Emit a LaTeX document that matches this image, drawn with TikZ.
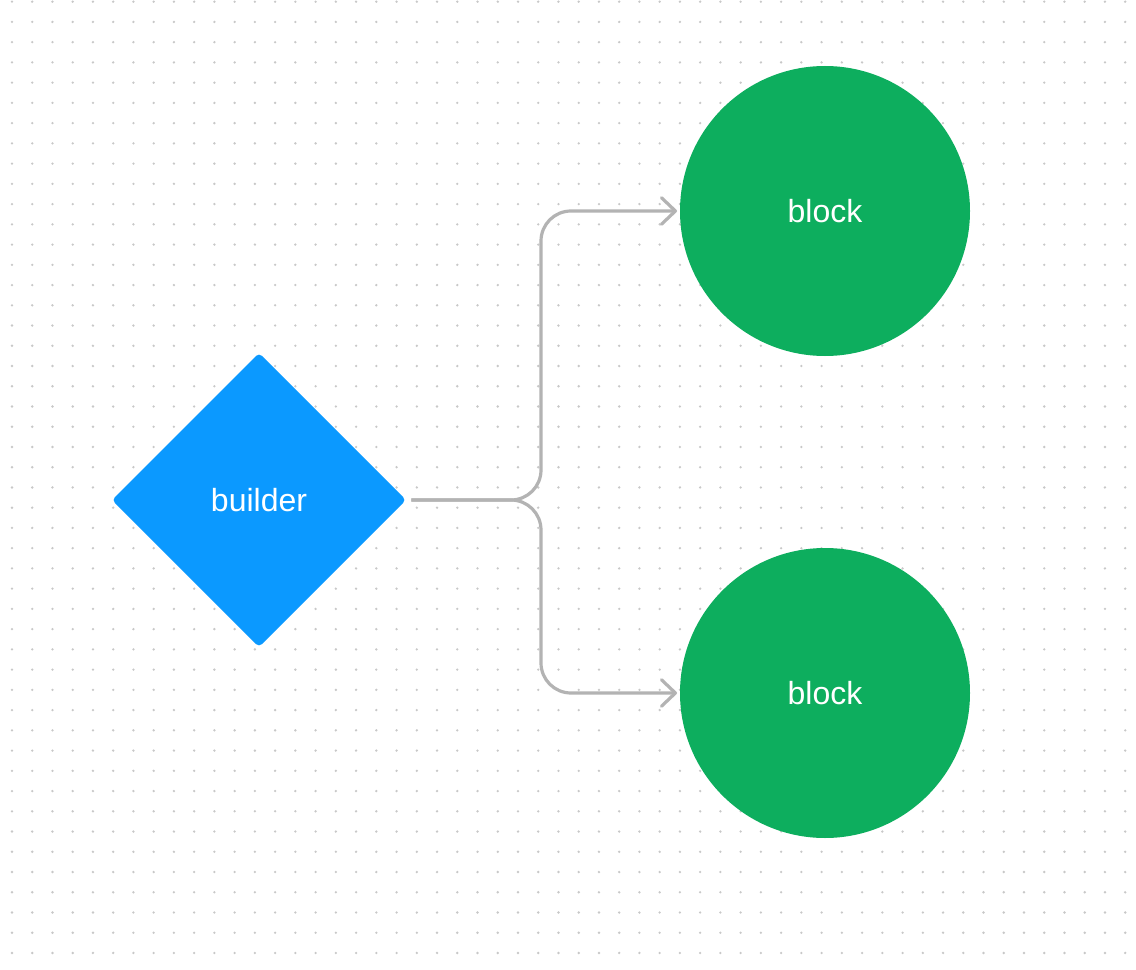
\documentclass[tikz,border=0pt]{standalone}
\usepackage{fontspec}
\setmainfont{Liberation Sans}
\usetikzlibrary{shapes.geometric,arrows.meta}

\definecolor{dotgray}{HTML}{C8C8C8}
\definecolor{linkgray}{HTML}{B3B3B3}
\definecolor{bldblue}{HTML}{0B99FF}
\definecolor{blkgreen}{HTML}{0DAE5E}

\tikzset{
  builderbox/.style={shape=diamond, aspect=1, fill=bldblue, draw=none, inner sep=0pt, outer sep=0pt,
    minimum width=220.5pt, minimum height=220.5pt, rounded corners=3pt,
    text=white, font=\fontsize{24}{28}\selectfont},
  blockbox/.style={shape=circle, fill=blkgreen, draw=none, inner sep=0pt, outer sep=0pt,
    minimum size=217.5pt, text=white, font=\fontsize{24}{28}\selectfont},
  link/.style={draw=linkgray, line width=2.4pt, rounded corners=22.5pt,
    -{Straight Barb[length=10.5pt, width=20pt, line cap=round, line join=round]},
    shorten <=4pt, shorten >=2.25pt}
}

\begin{document}
\begin{tikzpicture}[x=0.75pt,y=-0.75pt]

\useasboundingbox (0,0) rectangle (1136,970);
\fill[white] (0,0) rectangle (1136,970);
% dot grid
\foreach \i in {0,...,55}
  \foreach \j in {0,...,47}
    \fill[dotgray] (12+20.24*\i,1.7+20.24*\j) circle (1.3);

\node(bld) at (259,500) [builderbox] {builder};
\node(blk1) at (825,211) [blockbox] {block};
\node(blk2) at (825,693) [blockbox] {block};

\coordinate (split) at (541,500);
\draw[link] (bld.east) -- (split) |- (blk1.west);
\draw[link] (bld.east) -- (split) |- (blk2.west);

\end{tikzpicture}
\end{document}
